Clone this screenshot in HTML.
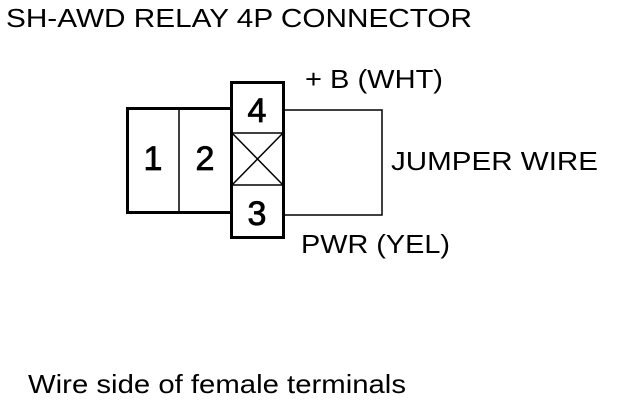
<!DOCTYPE html>
<html><head><style>
body{margin:0;background:#fff;width:624px;height:404px;overflow:hidden}
svg text{font-family:"Liberation Sans",sans-serif;fill:#000}
</style></head><body>
<svg width="624" height="404" xmlns="http://www.w3.org/2000/svg">
<text x="6" y="27" font-size="26" textLength="466" lengthAdjust="spacingAndGlyphs">SH-AWD RELAY 4P CONNECTOR</text>
<rect x="127.5" y="108.5" width="105" height="104" fill="none" stroke="#000" stroke-width="3"/>
<line x1="179" y1="108" x2="179" y2="213" stroke="#000" stroke-width="1.5"/>
<rect x="284" y="110" width="98" height="105" fill="none" stroke="#000" stroke-width="1.5"/>
<rect x="231.5" y="82.5" width="52" height="155" fill="#fff" stroke="#000" stroke-width="3"/>
<line x1="231" y1="133" x2="284" y2="133" stroke="#000" stroke-width="1.5"/>
<line x1="231" y1="185" x2="284" y2="185" stroke="#000" stroke-width="1.5"/>
<line x1="232" y1="133" x2="283" y2="185" stroke="#000" stroke-width="1.5"/>
<line x1="283" y1="133" x2="232" y2="185" stroke="#000" stroke-width="1.5"/>
<g font-size="34" stroke="#000" stroke-width="0.8" text-anchor="middle">
<text x="153" y="170">1</text>
<text x="205" y="170">2</text>
<text x="257" y="122">4</text>
<text x="257" y="225">3</text>
</g>
<text x="305" y="88" font-size="26" textLength="138" lengthAdjust="spacingAndGlyphs">+ B (WHT)</text>
<text x="391" y="170" font-size="26" textLength="207" lengthAdjust="spacingAndGlyphs">JUMPER WIRE</text>
<text x="301" y="253" font-size="26" textLength="149" lengthAdjust="spacingAndGlyphs">PWR (YEL)</text>
<text x="28" y="393" font-size="26" textLength="378" lengthAdjust="spacingAndGlyphs">Wire side of female terminals</text>
</svg>
</body></html>
